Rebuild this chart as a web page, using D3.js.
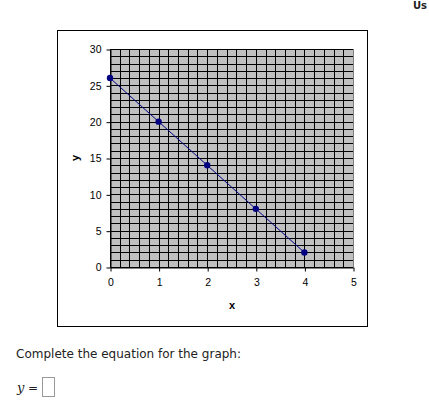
<!DOCTYPE html>
<html>
<head>
<meta charset="utf-8">
<script src="https://cdn.jsdelivr.net/npm/d3@7"></script>
<style>
  html, body { margin: 0; padding: 0; background: #fff; }
  svg { display: block; }
</style>
</head>
<body>
<svg id="chart" width="429" height="406"></svg>
<script>
const xValues = [0, 1, 2, 3, 4];
const yValues = [26, 20, 14, 8, 2];
const xTicks = [0, 1, 2, 3, 4, 5];
const yTicks = [0, 5, 10, 15, 20, 25, 30];
const xGrid = d3.range(0, 5.0001, 0.2);
const yGrid = d3.range(0, 31, 1);

const PLOT = {left: 110, right: 353, top: 49, bottom: 267};

const svg = d3.select('#chart');

// outer chart frame
svg.append('rect')
  .attr('x', 57.5).attr('y', 30.5)
  .attr('width', 310).attr('height', 296)
  .attr('fill', '#fff').attr('stroke', '#000');

const x = d3.scaleLinear().domain([0, 5]).range([PLOT.left, PLOT.right]);
const y = d3.scaleLinear().domain([0, 30]).range([PLOT.bottom, PLOT.top]);

svg.append('rect')
  .attr('x', PLOT.left).attr('y', PLOT.top)
  .attr('width', PLOT.right - PLOT.left).attr('height', PLOT.bottom - PLOT.top)
  .attr('fill', '#c0c0c0');

const grid = svg.append('g').attr('stroke', '#000').attr('stroke-width', 1);
grid.selectAll('line.v').data(xGrid.slice(0, -1)).join('line')
  .attr('class', 'v')
  .attr('x1', (d) => Math.round(x(d)) + 0.5).attr('x2', (d) => Math.round(x(d)) + 0.5)
  .attr('y1', PLOT.top).attr('y2', PLOT.bottom);
grid.selectAll('line.h').data(yGrid).join('line')
  .attr('class', 'h')
  .attr('y1', (d) => Math.round(y(d)) + 0.5).attr('y2', (d) => Math.round(y(d)) + 0.5)
  .attr('x1', PLOT.left).attr('x2', PLOT.right);

// right edge of plot area is grey
svg.append('line')
  .attr('x1', PLOT.right + 0.5).attr('x2', PLOT.right + 0.5)
  .attr('y1', PLOT.top).attr('y2', PLOT.bottom)
  .attr('stroke', '#808080');

const xAxis = svg.append('g')
  .attr('transform', `translate(0.5,${Math.round(y(0)) + 0.5})`)
  .call(d3.axisBottom(x).tickValues(xTicks).tickFormat(d3.format('d'))
    .tickSize(4).tickSizeOuter(0).tickPadding(7));
const yAxis = svg.append('g')
  .attr('transform', `translate(${PLOT.left + 0.5},0.5)`)
  .call(d3.axisLeft(y).tickValues(yTicks).tickFormat(d3.format('d'))
    .tickSize(4).tickSizeOuter(0).tickPadding(5));

[xAxis, yAxis].forEach((axis) => {
  axis.select('.domain').attr('stroke', '#000');
  axis.selectAll('.tick line').attr('stroke', '#000');
  axis.selectAll('.tick text')
    .attr('fill', '#000')
    .style('font-family', 'Liberation Sans, Arial, sans-serif')
    .style('font-size', '10.5px');
});

const line = d3.line().x((d, i) => x(xValues[i])).y((d) => y(d));
svg.append('path')
  .datum(yValues)
  .attr('d', line)
  .attr('fill', 'none')
  .attr('stroke', '#000080')
  .attr('stroke-width', 1);

svg.selectAll('circle.pt').data(yValues).join('circle')
  .attr('class', 'pt')
  .attr('cx', (d, i) => x(xValues[i]))
  .attr('cy', (d) => y(d))
  .attr('r', 3.2)
  .attr('fill', '#000080');

svg.append('text')
  .attr('x', 232).attr('y', 309)
  .attr('text-anchor', 'middle')
  .style('font-family', 'Liberation Sans, Arial, sans-serif')
  .style('font-size', '11px').style('font-weight', 'bold')
  .text('x');

svg.append('text')
  .attr('transform', 'translate(79,158) rotate(-90)')
  .attr('text-anchor', 'middle')
  .style('font-family', 'Liberation Sans, Arial, sans-serif')
  .style('font-size', '11px').style('font-weight', 'bold')
  .text('y');

svg.append('text')
  .attr('x', 16).attr('y', 358)
  .attr('textLength', 225)
  .style('font-family', 'DejaVu Sans, Verdana, sans-serif')
  .style('font-size', '12px')
  .attr('fill', '#222')
  .text('Complete the equation for the graph:');

svg.append('text')
  .attr('x', 17).attr('y', 392)
  .style('font-family', 'DejaVu Serif, serif')
  .style('font-size', '13px').style('font-style', 'italic')
  .attr('fill', '#222')
  .text('y');
svg.append('text')
  .attr('x', 28).attr('y', 392)
  .style('font-family', 'DejaVu Sans, Verdana, sans-serif')
  .style('font-size', '12px')
  .attr('fill', '#222')
  .text('=');
svg.append('rect')
  .attr('x', 42.5).attr('y', 377.5)
  .attr('width', 12).attr('height', 19)
  .attr('fill', '#fff').attr('stroke', '#999');

svg.append('text')
  .attr('x', 427).attr('y', 9)
  .attr('text-anchor', 'end')
  .style('font-family', 'DejaVu Sans, Verdana, sans-serif')
  .style('font-size', '10px').style('font-weight', 'bold')
  .attr('fill', '#222')
  .text('Us');
</script>
</body>
</html>
